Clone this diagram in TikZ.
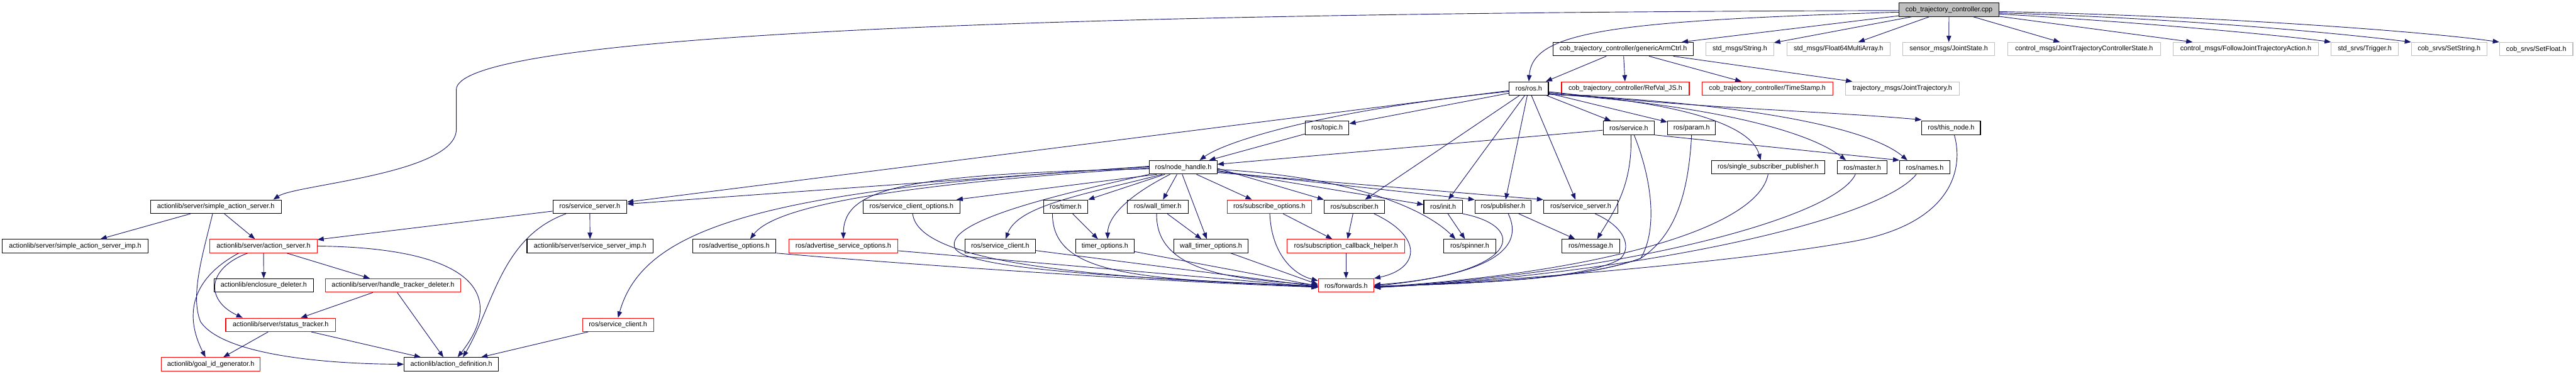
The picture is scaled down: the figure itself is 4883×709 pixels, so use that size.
\documentclass[tikz,border=0pt]{standalone}
\usepackage{fontspec}
\newfontfamily\lab{Liberation Sans}
\usetikzlibrary{arrows.meta}
\definecolor{edgeblue}{HTML}{191970}
\definecolor{boxgray}{HTML}{BFBFBF}
\begin{document}
\begin{tikzpicture}[x=1pt,y=-1pt,
  box/.style={draw, rectangle, inner sep=0pt, minimum height=25.5pt, line width=1.3pt,
              font=\lab\fontsize{12.9}{14}\selectfont, text=black},
  bk/.style={box, draw=black},
  rd/.style={box, draw=red},
  gr/.style={box, draw=boxgray},
  ed/.style={draw=edgeblue, line width=1.1pt, -{Triangle[length=12pt,width=9pt]}}]
\fill[white] (0,0) rectangle (4883,709);
\useasboundingbox (0,0) rectangle (4883,709);
% row 0
\node[box, draw=black, fill=boxgray, minimum width=189pt] (C) at (3694.5,18.5) {cob\_trajectory\_controller.cpp};
% row 1
\node[bk, minimum width=266pt] (GAC) at (3077,93.2) {cob\_trajectory\_controller/genericArmCtrl.h};
\node[gr, minimum width=128pt] (SSTR) at (3298,93.2) {std\_msgs/String.h};
\node[gr, minimum width=196pt] (F64) at (3485,93.2) {std\_msgs/Float64MultiArray.h};
\node[gr, minimum width=174pt] (JS) at (3694,93.2) {sensor\_msgs/JointState.h};
\node[gr, minimum width=289pt] (JTCS) at (3950.5,93.2) {control\_msgs/JointTrajectoryControllerState.h};
\node[gr, minimum width=276pt] (FJTA) at (4257,93.2) {control\_msgs/FollowJointTrajectoryAction.h};
\node[gr, minimum width=127pt] (TRIG) at (4482.5,93.2) {std\_srvs/Trigger.h};
\node[gr, minimum width=143pt] (SETS) at (4642.5,93.2) {cob\_srvs/SetString.h};
\node[gr, minimum width=139pt] (SETF) at (4807.5,93.2) {cob\_srvs/SetFloat.h};
% row 2
\node[bk, minimum width=74pt] (ROS) at (2898,167.9) {ros/ros.h};
\node[rd, minimum width=242pt] (REF) at (3081,167.9) {cob\_trajectory\_controller/RefVal\_JS.h};
\node[rd, minimum width=248pt] (TS) at (3350,167.9) {cob\_trajectory\_controller/TimeStamp.h};
\node[gr, minimum width=216pt] (JT) at (3606,167.9) {trajectory\_msgs/JointTrajectory.h};
% row 3
\node[bk, minimum width=83pt] (TOPIC) at (2515.5,242.6) {ros/topic.h};
\node[bk, minimum width=97pt] (SERVICE) at (3087.5,242.6) {ros/service.h};
\node[bk, minimum width=91pt] (PARAM) at (3206.5,242.6) {ros/param.h};
\node[bk, minimum width=111pt] (THIS) at (3698.5,242.6) {ros/this\_node.h};
% row 4
\node[bk, minimum width=128pt] (NH) at (2243,317.3) {ros/node\_handle.h};
\node[bk, minimum width=215pt] (SSP) at (3351.5,317.3) {ros/single\_subscriber\_publisher.h};
\node[bk, minimum width=94pt] (MASTER) at (3530,317.3) {ros/master.h};
\node[bk, minimum width=95pt] (NAMES) at (3648.5,317.3) {ros/names.h};
% row 5
\node[bk, minimum width=248pt] (SAS) at (409,392) {actionlib/server/simple\_action\_server.h};
\node[bk, minimum width=140pt] (SSL) at (1118,392) {ros/service\_server.h};
\node[bk, minimum width=184pt] (SCO) at (1728,392) {ros/service\_client\_options.h};
\node[bk, minimum width=84pt] (TIMER) at (2020,392) {ros/timer.h};
\node[bk, minimum width=115pt] (WTIMER) at (2194.5,392) {ros/wall\_timer.h};
\node[rd, minimum width=160pt] (SUBO) at (2406,392) {ros/subscribe\_options.h};
\node[bk, minimum width=115pt] (SUB) at (2567.5,392) {ros/subscriber.h};
\node[bk, minimum width=73pt] (INIT) at (2735.5,392) {ros/init.h};
\node[bk, minimum width=106pt] (PUB) at (2849,392) {ros/publisher.h};
\node[bk, minimum width=141pt] (SSR) at (2996.5,392) {ros/service\_server.h};
% row 6
\node[bk, minimum width=277pt] (SASI) at (142.5,466.7) {actionlib/server/simple\_action\_server\_imp.h};
\node[rd, minimum width=203pt] (AS) at (499.5,466.7) {actionlib/server/action\_server.h};
\node[bk, minimum width=239pt] (SSI) at (1118.5,466.7) {actionlib/server/service\_server\_imp.h};
\node[bk, minimum width=158pt] (AO) at (1392,466.7) {ros/advertise\_options.h};
\node[rd, minimum width=207pt] (ASO) at (1598.5,466.7) {ros/advertise\_service\_options.h};
\node[bk, minimum width=134pt] (SC) at (1896,466.7) {ros/service\_client.h};
\node[bk, minimum width=111pt] (TO) at (2094.5,466.7) {timer\_options.h};
\node[bk, minimum width=141pt] (WTO) at (2295.5,466.7) {wall\_timer\_options.h};
\node[rd, minimum width=223pt] (SCH) at (2551.5,466.7) {ros/subscription\_callback\_helper.h};
\node[bk, minimum width=98pt] (SPIN) at (2786,466.7) {ros/spinner.h};
\node[bk, minimum width=109pt] (MSG) at (3015.5,466.7) {ros/message.h};
% row 7
\node[bk, minimum width=188pt] (ED) at (500,541.4) {actionlib/enclosure\_deleter.h};
\node[rd, minimum width=256pt] (HTD) at (745,541.4) {actionlib/server/handle\_tracker\_deleter.h};
\node[rd, minimum width=105pt] (FWD) at (2551.5,541.4) {ros/forwards.h};
% row 8
\node[rd, minimum width=208pt] (ST) at (532,616.1) {actionlib/server/status\_tracker.h};
\node[rd, minimum width=135pt] (SCR) at (1171.5,616.1) {ros/service\_client.h};
% row 9
\node[rd, minimum width=187pt] (GID) at (399.5,690.8) {actionlib/goal\_id\_generator.h};
\node[bk, minimum width=179pt] (AD) at (855.5,690.8) {actionlib/action\_definition.h};

% ---- edges from the .cpp
\draw[ed] ([yshift=-1.5pt]C.west) .. controls (1600,25) and (865,85) .. (865,170) -- (865,245)
   .. controls (865,330) and (560,350) .. ([xshift=109pt]SAS.north);
\draw[ed] ([yshift=-4.5pt]C.west) .. controls (3050,40) and (2905,60) .. (ROS.north);
\draw[ed] (C) -- (GAC);
\draw[ed] (C) -- (SSTR);
\draw[ed] (C) -- (F64);
\draw[ed] (C) -- (JS);
\draw[ed] (C) -- (JTCS);
\draw[ed] (C) -- (FJTA);
\draw[ed] ([yshift=-8pt]C.east) .. controls (4100,45) and (4350,70) .. (TRIG.north west);
\draw[ed] ([yshift=-6pt]C.east) .. controls (4150,35) and (4450,65) .. (SETS.north west);
\draw[ed] ([yshift=-3.5pt]C.east) .. controls (4200,30) and (4600,60) .. (SETF.north west);
% ---- genericArmCtrl
\draw[ed] (GAC) -- (ROS);
\draw[ed] (GAC) -- (REF);
\draw[ed] (GAC) -- (TS);
\draw[ed] (GAC) -- (JT);
% ---- ros.h
\draw[ed] ([yshift=-4pt]ROS.west) -- (SSL);
\draw[ed] ([yshift=-5.5pt]ROS.west) .. controls (2500,210) and (2320,270) .. ([xshift=31pt]NH.north);
\draw[ed] ([yshift=-8.8pt]ROS.west) -- (TOPIC);
\draw[ed] (ROS) -- (SERVICE);
\draw[ed] (ROS) -- (PARAM);
\draw[ed] ([yshift=-6pt]ROS.east) .. controls (3200,205) and (3450,210) .. ([yshift=2pt]THIS.north west);
\draw[ed] ([yshift=-8pt]ROS.east) .. controls (3200,195) and (3320,240) .. ([xshift=-14pt]SSP.north);
\draw[ed] ([yshift=-10pt]ROS.east) .. controls (3250,200) and (3430,250) .. ([xshift=-31pt]MASTER.north);
\draw[ed] ([yshift=-11pt]ROS.east) .. controls (3300,195) and (3540,240) .. ([xshift=-33pt]NAMES.north);
\draw[ed] ([xshift=-18pt]ROS.south) -- ([xshift=20pt]SUB.north);
\draw[ed] ([xshift=-8pt]ROS.south) -- ([xshift=10pt]INIT.north);
\draw[ed] ([xshift=-3pt]ROS.south) -- ([xshift=5pt]PUB.north);
\draw[ed] ([xshift=5pt]ROS.south) -- ([xshift=-10pt]SSR.north);
% ---- topic, service, param, this_node, ssp, master, names
\draw[ed] (TOPIC) -- (NH);
\draw[ed] (SERVICE) -- (NH);
\draw[ed] ([xshift=4pt]SERVICE.south) .. controls (3095,350) and (3060,400) .. ([xshift=12pt]MSG.north);
\draw[ed] (SERVICE.south east) -- (NAMES.north west);
\draw[ed] ([xshift=10pt]SERVICE.south) .. controls (3135,350) and (3140,440) .. (3110,490)
   .. controls (3000,530) and (2800,537) .. ([yshift=-2pt]FWD.east);
\draw[ed] (PARAM.south) .. controls (3200,380) and (3170,450) .. (3110,490)
   .. controls (3000,530) and (2800,537) .. ([yshift=-2pt]FWD.east);
\draw[ed] ([xshift=6pt]THIS.south) .. controls (3725,330) and (3690,430) .. (3500,460)
   .. controls (3300,495) and (2900,530) .. ([yshift=-4pt]FWD.east);
\draw[ed] (SSP.south) .. controls (3330,440) and (3000,520) .. ([yshift=-3pt]FWD.east);
\draw[ed] ([xshift=-13pt]MASTER.south) .. controls (3480,410) and (3100,515) .. ([yshift=-4pt]FWD.east);
\draw[ed] ([xshift=-16pt]NAMES.south) .. controls (3560,420) and (3100,520) .. ([yshift=-4pt]FWD.east);
% ---- node_handle
\draw[ed] ([yshift=2pt]NH.west) -- (SSL);
\draw[ed] ([yshift=1pt]NH.west) .. controls (1450,360) and (1220,430) .. (SCR.north);
\draw[ed] ([yshift=-1pt]NH.west) .. controls (1700,350) and (1470,390) .. ([xshift=30pt]AO.north);
\draw[ed] ([yshift=-3pt]NH.west) .. controls (1700,330) and (1600,360) .. (ASO.north);
\draw[ed] ([xshift=-50pt]NH.south) -- ([xshift=85pt]SCO.north);
\draw[ed] ([xshift=-40pt]NH.south) .. controls (2050,370) and (1930,390) .. ([xshift=10pt]SC.north);
\draw[ed] ([xshift=-35pt]NH.south) -- (TIMER.north east);
\draw[ed] ([xshift=-25pt]NH.south) .. controls (2140,370) and (2100,410) .. ([xshift=5pt]TO.north);
\draw[ed] ([xshift=-12pt]NH.south) -- ([xshift=10pt]WTIMER.north);
\draw[ed] ([xshift=-2pt]NH.south) -- ([xshift=-8pt]WTO.north);
\draw[ed] ([xshift=25pt]NH.south) -- ([xshift=-33pt]SUBO.north);
\draw[ed] ([yshift=-2pt]NH.east) -- (SUB.north west);
\draw[ed] ([yshift=-4pt]NH.east) .. controls (2560,335) and (2700,395) .. ([xshift=-27pt]SPIN.north);
\draw[ed] ([yshift=-6pt]NH.east) -- ([yshift=4pt]INIT.west);
\draw[ed] ([yshift=-8pt]NH.east) -- (PUB.north west);
\draw[ed] ([yshift=-10pt]NH.east) -- (SSR.north west);
\draw[ed] (NH.south west) .. controls (2000,370) and (1790,420) .. (1810,470)
   .. controls (1830,520) and (2300,530) .. ([yshift=-4pt]FWD.west);
% ---- row 5 roscpp
\draw[ed] (TIMER) -- (TO);
\draw[ed] (WTIMER) -- (WTO);
\draw[ed] (SUB) -- (SCH);
\draw[ed] (SUBO) -- (SCH);
\draw[ed] (INIT) -- (SPIN);
\draw[ed] (PUB) -- (MSG);
\draw[ed] ([xshift=2pt]SCO.south) .. controls (1740,490) and (2000,525) .. ([yshift=-2pt]FWD.west);
\draw[ed] ([xshift=-25pt]TIMER.south) .. controls (1995,520) and (2150,530) .. ([yshift=-1pt]FWD.west);
\draw[ed] ([xshift=-2pt]WTIMER.south) .. controls (2190,520) and (2350,530) .. ([yshift=1pt]FWD.west);
\draw[ed] ([xshift=1pt]SUBO.south) .. controls (2410,480) and (2450,520) .. ([yshift=9pt]FWD.west);
\draw[ed] ([xshift=37pt]SUB.south) .. controls (2700,450) and (2690,510) .. (FWD.north east);
\draw[ed] (INIT.south east) .. controls (2900,430) and (2880,520) .. ([yshift=1pt]FWD.east);
\draw[ed] ([xshift=10pt]PUB.south) .. controls (2890,470) and (2830,520) .. ([yshift=-1pt]FWD.east);
\draw[ed] ([xshift=27pt]SSR.south) .. controls (3080,430) and (3095,470) .. (3070,492)
   .. controls (3000,530) and (2800,537) .. ([yshift=-2pt]FWD.east);
% ---- row 6 roscpp
\draw[ed] (SCH) -- (FWD);
\draw[ed] (AO.south east) .. controls (1700,500) and (2200,535) .. ([yshift=-3pt]FWD.west);
\draw[ed] (ASO) -- ([yshift=-3pt]FWD.west);
\draw[ed] (SC) -- ([yshift=-2pt]FWD.west);
\draw[ed] (TO) -- ([yshift=-1pt]FWD.west);
\draw[ed] (WTO) -- ([yshift=2pt]FWD.west);
% ---- actionlib
\draw[ed] (SAS) -- (SASI);
\draw[ed] (SAS) -- (AS);
\draw[ed] ([xshift=-6pt]SAS.south) .. controls (385,480) and (360,560) .. (380,610)
   .. controls (420,670) and (600,690) .. (AD.west);
\draw[ed] (SSL) -- (AS);
\draw[ed] (SSL) -- (SSI);
\draw[ed] ([xshift=-45pt]SSL.south) .. controls (950,450) and (935,580) .. ([xshift=22pt]AD.north);
\draw[ed] (SCR) -- (AD);
\draw[ed] (AS) -- (ED);
\draw[ed] (AS) -- (HTD);
\draw[ed] ([xshift=-30pt]AS.south) .. controls (390,510) and (390,570) .. ([xshift=-72pt]ST.north);
\draw[ed] ([xshift=-47pt]AS.south) .. controls (360,530) and (350,600) .. ([xshift=-10pt]GID.north);
\draw[ed] (AS.east) .. controls (900,470) and (960,560) .. ([xshift=12pt]AD.north);
\draw[ed] (HTD) -- (ST);
\draw[ed] ([xshift=8pt]HTD.south) -- ([xshift=-15pt]AD.north);
\draw[ed] (ST) -- (GID);
\draw[ed] (ST) -- (AD);
\end{tikzpicture}
\end{document}
